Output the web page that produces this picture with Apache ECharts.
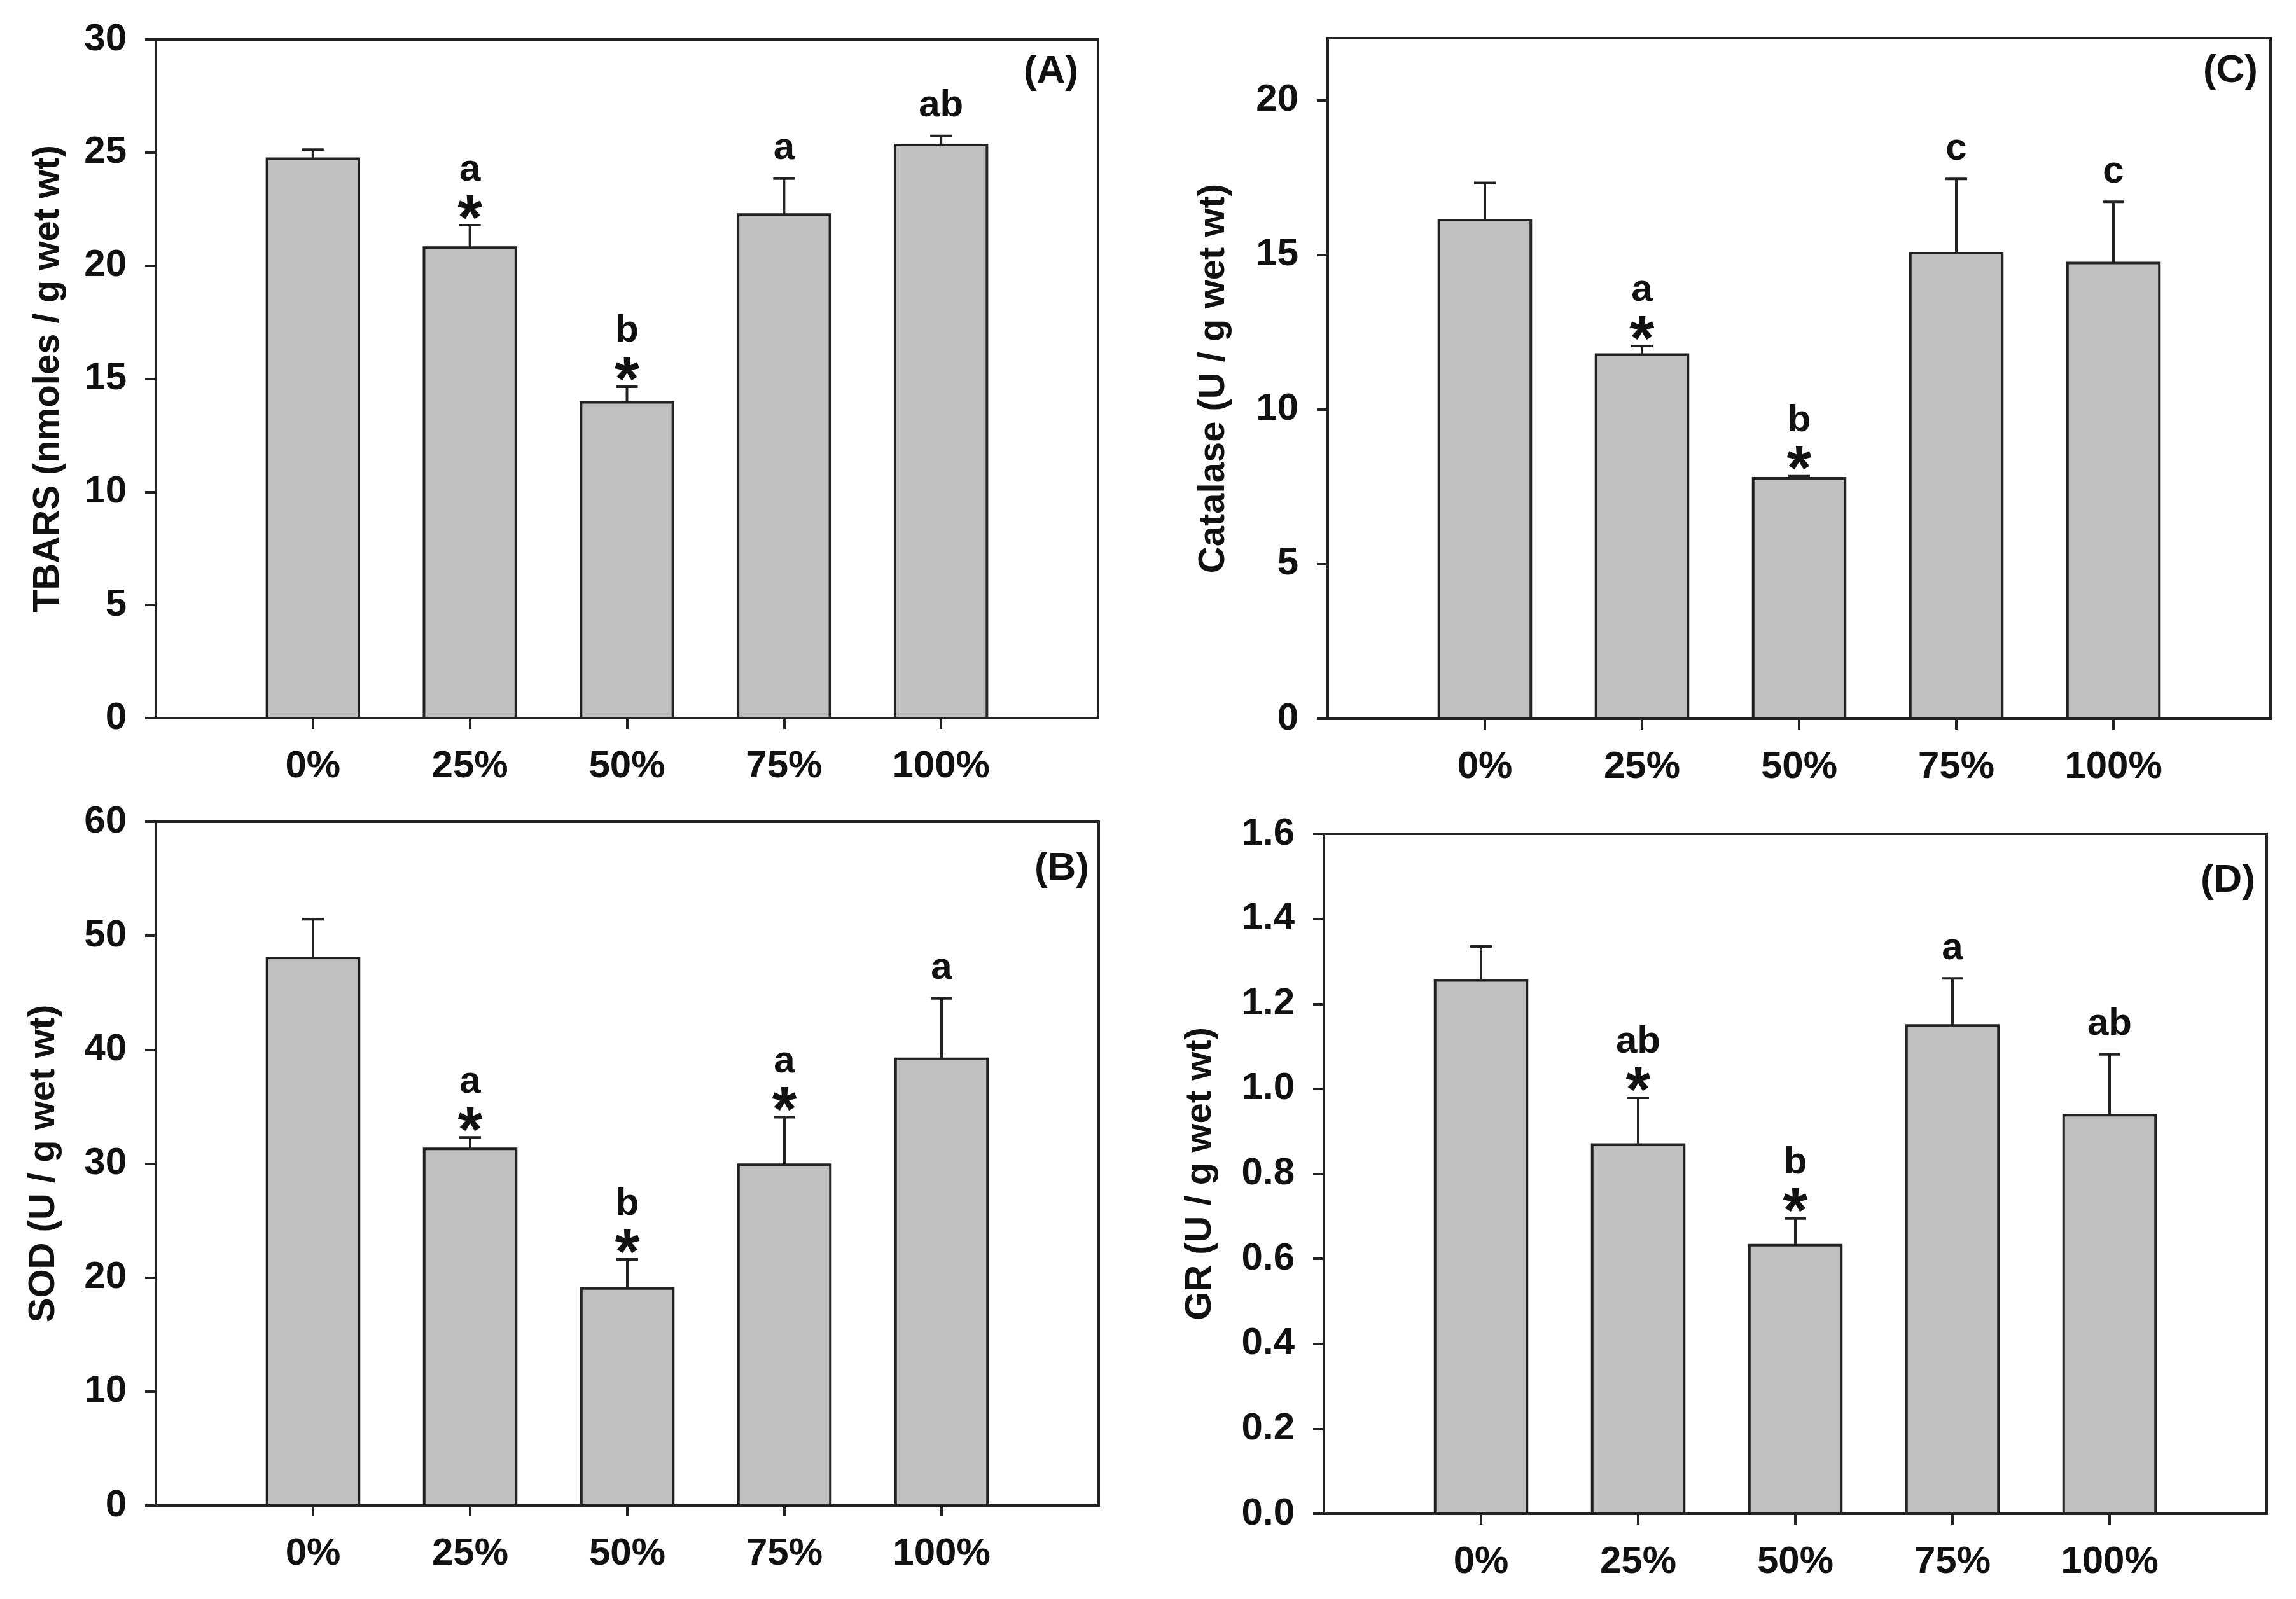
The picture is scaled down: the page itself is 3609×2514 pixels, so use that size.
<!DOCTYPE html>
<html>
<head>
<meta charset="utf-8">
<script src="https://cdn.jsdelivr.net/npm/echarts@6/dist/echarts.min.js"></script>
<style>
html,body{margin:0;padding:0;background:#fff;}
#chart{width:3609px;height:2514px;}
</style>
</head>
<body>
<div id="chart"></div>
<script>
// ---------- data ----------
const categories = ['0%', '25%', '50%', '75%', '100%'];
const categoryPos = [1, 2, 3, 4, 5];

const tbarsMean = [24.73, 20.80, 13.96, 22.26, 25.33];
const tbarsErr = [0.40, 0.99, 0.69, 1.59, 0.40];
const tbarsLetters = ['', 'a', 'b', 'a', 'ab'];
const tbarsStar = [false, true, true, false, false];
const tbarsTicks = [0, 5, 10, 15, 20, 25, 30];

const catalaseMean = [16.12, 11.77, 7.77, 15.05, 14.73];
const catalaseErr = [1.20, 0.28, 0.07, 2.40, 1.98];
const catalaseLetters = ['', 'a', 'b', 'c', 'c'];
const catalaseStar = [false, true, true, false, false];
const catalaseTicks = [0, 5, 10, 15, 20];

const sodMean = [48.05, 31.30, 19.05, 29.90, 39.20];
const sodErr = [3.40, 1.00, 2.55, 4.17, 5.30];
const sodLetters = ['', 'a', 'b', 'a', 'a'];
const sodStar = [false, true, true, true, false];
const sodTicks = [0, 10, 20, 30, 40, 50, 60];

const grMean = [1.255, 0.869, 0.632, 1.149, 0.938];
const grErr = [0.080, 0.110, 0.063, 0.111, 0.143];
const grLetters = ['', 'ab', 'b', 'a', 'ab'];
const grStar = [false, true, true, false, false];
const grTicks = [0, 0.2, 0.4, 0.6, 0.8, 1.0, 1.2, 1.4, 1.6];

// ---------- styling / layout ----------
const FONT = '"Liberation Sans", Arial, Helvetica, sans-serif';
const INK = '#111';
const LINE = '#222';
const BAR_FILL = '#c0c0c0';
const BAR_HALF = 0.2925;

const panels = [
  { mean: tbarsMean, err: tbarsErr, letters: tbarsLetters, star: tbarsStar, ticks: tbarsTicks,
    yMax: 30, dec: 0, name: 'TBARS (nmoles / g wet wt)', nameGap: 140, tag: '(A)',
    grid: { left: 245, top: 62, width: 1481, height: 1067 }, tagPos: [1695, 113] },
  { mean: catalaseMean, err: catalaseErr, letters: catalaseLetters, star: catalaseStar, ticks: catalaseTicks,
    yMax: 22, dec: 0, name: 'Catalase (U / g wet wt)', nameGap: 150, tag: '(C)',
    grid: { left: 2087, top: 60, width: 1482, height: 1070 }, tagPos: [3549, 112] },
  { mean: sodMean, err: sodErr, letters: sodLetters, star: sodStar, ticks: sodTicks,
    yMax: 60, dec: 0, name: 'SOD (U / g wet wt)', nameGap: 147, tag: '(B)',
    grid: { left: 245, top: 1292, width: 1482, height: 1075 }, tagPos: [1712, 1366] },
  { mean: grMean, err: grErr, letters: grLetters, star: grStar, ticks: grTicks,
    yMax: 1.6, dec: 1, name: 'GR (U / g wet wt)', nameGap: 165, tag: '(D)',
    grid: { left: 2081, top: 1311, width: 1482, height: 1069 }, tagPos: [3545, 1385] }
];

const grids = [], xAxes = [], yAxes = [], series = [], graphics = [];

panels.forEach((p, i) => {
  grids.push(Object.assign({ show: true, borderColor: LINE, borderWidth: 4, backgroundColor: 'transparent' }, p.grid));

  xAxes.push({
    type: 'value', gridIndex: i, min: 0, max: 6, interval: 1,
    axisLine: { show: true, onZero: false, lineStyle: { color: LINE, width: 4 } },
    axisTick: { show: true, inside: false, length: 17, lineStyle: { color: LINE, width: 4 }, customValues: categoryPos },
    axisLabel: { show: true, margin: 46, color: INK, fontSize: 60, fontWeight: 'bold', fontFamily: FONT,
      customValues: categoryPos,
      formatter: v => categories[Math.round(v) - 1] || '' },
    splitLine: { show: false }
  });

  yAxes.push({
    type: 'value', gridIndex: i, min: 0, max: p.yMax,
    name: p.name, nameLocation: 'middle', nameGap: p.nameGap,
    nameTextStyle: { color: INK, fontSize: 58, fontWeight: 'bold', fontFamily: FONT },
    axisLine: { show: true, onZero: false, lineStyle: { color: LINE, width: 4 } },
    axisTick: { show: true, inside: false, length: 17, lineStyle: { color: LINE, width: 4 }, customValues: p.ticks },
    axisLabel: { show: true, margin: 46, color: INK, fontSize: 60, fontWeight: 'bold', fontFamily: FONT,
      customValues: p.ticks,
      formatter: v => v.toFixed(p.dec) },
    splitLine: { show: false }
  });

  const data = categoryPos.map((x, k) => [x, p.mean[k], p.err[k]]);

  // bars
  series.push({
    type: 'custom', xAxisIndex: i, yAxisIndex: i, data: data, z: 2,
    renderItem: (params, api) => {
      const x = api.value(0), v = api.value(1);
      const a = api.coord([x - BAR_HALF, v]);
      const b = api.coord([x + BAR_HALF, 0]);
      return { type: 'rect', shape: { x: a[0], y: a[1], width: b[0] - a[0], height: b[1] - a[1] },
        style: { fill: BAR_FILL, stroke: LINE, lineWidth: 4 } };
    }
  });

  // error bars (upper only)
  series.push({
    type: 'custom', xAxisIndex: i, yAxisIndex: i, data: data, z: 3,
    renderItem: (params, api) => {
      const x = api.value(0), v = api.value(1), e = api.value(2);
      const lo = api.coord([x, v]);
      const hi = api.coord([x, v + e]);
      return { type: 'group', children: [
        { type: 'line', shape: { x1: lo[0], y1: lo[1], x2: hi[0], y2: hi[1] }, style: { stroke: LINE, lineWidth: 4 } },
        { type: 'line', shape: { x1: hi[0] - 17, y1: hi[1], x2: hi[0] + 17, y2: hi[1] }, style: { stroke: LINE, lineWidth: 4 } }
      ] };
    }
  });

  // significance annotations
  series.push({
    type: 'custom', xAxisIndex: i, yAxisIndex: i, data: data, z: 4,
    renderItem: (params, api) => {
      const k = params.dataIndex;
      const x = api.value(0), v = api.value(1), e = api.value(2);
      const hi = api.coord([x, v + e]);
      const kids = [];
      const star = p.star[k];
      if (star) {
        kids.push({ type: 'text', x: hi[0], y: hi[1] - 6,
          style: { text: '*', fill: INK, fontSize: 100, fontWeight: 'bold', fontFamily: FONT, align: 'center', verticalAlign: 'middle' } });
      }
      if (p.letters[k]) {
        kids.push({ type: 'text', x: hi[0], y: hi[1] - (star ? 87 : 47),
          style: { text: p.letters[k], fill: INK, fontSize: 60, fontWeight: 'bold', fontFamily: FONT, align: 'center', verticalAlign: 'middle' } });
      }
      return { type: 'group', children: kids };
    }
  });

  graphics.push({ type: 'text', x: p.tagPos[0], y: p.tagPos[1], z: 10,
    style: { text: p.tag, fill: INK, fontSize: 62, fontWeight: 'bold', fontFamily: FONT, align: 'right', verticalAlign: 'middle' } });
});

const chart = echarts.init(document.getElementById('chart'), null, { renderer: 'canvas' });
chart.setOption({
  backgroundColor: '#ffffff',
  animation: false,
  grid: grids,
  xAxis: xAxes,
  yAxis: yAxes,
  series: series,
  graphic: graphics
});
</script>
</body>
</html>
